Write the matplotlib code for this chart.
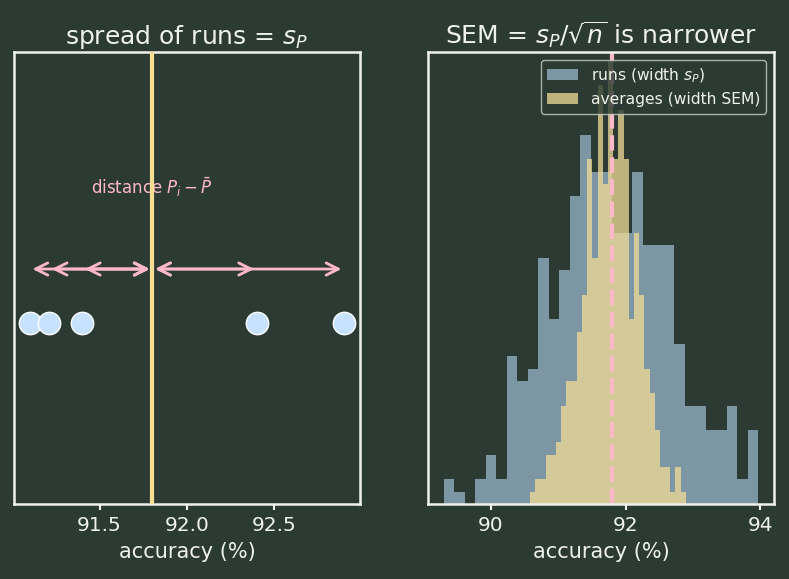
import numpy as np
import matplotlib
matplotlib.use("Agg")
import matplotlib.pyplot as plt

BG = "#2b3b34"
FG = "#eef2ea"
PINK = "#ffb8c9"
GOLD = "#f6df92"
DOT = "#c6e2ff"
RUNS_COLOR = "#b4d4ee"
AVG_COLOR = "#f2dc96"

# five runs shown on the left
runs = [91.10, 91.21, 91.40, 92.40, 92.90]

# histogram of 400 runs (30 bins) and of 400 averages (30 bins)
runs_range = (89.30, 93.97)
runs_counts = [2, 1, 0, 2, 4, 2, 12, 10, 11, 20, 15, 19, 25, 30, 27,
               27, 22, 22, 27, 21, 21, 21, 13, 8, 8, 6, 6, 8, 2, 6]
avg_range = (90.58, 92.895)
avg_counts = [1, 2, 2, 4, 4, 5, 8, 10, 10, 14, 17, 28, 20, 34, 26,
              36, 28, 32, 28, 15, 22, 17, 11, 9, 6, 3, 3, 1, 3, 1]

plt.rcParams.update({
    "figure.facecolor": BG,
    "axes.facecolor": BG,
    "axes.edgecolor": FG,
    "axes.labelcolor": FG,
    "text.color": FG,
    "xtick.color": FG,
    "ytick.color": FG,
    "axes.linewidth": 1.8,
})

fig = plt.figure(figsize=(7.89, 5.79), dpi=100)
ax1 = fig.add_axes([0.0177, 0.1295, 0.4385, 0.7805])
ax2 = fig.add_axes([0.5425, 0.1295, 0.4385, 0.7805])

mean = np.mean(runs)

# left: spread of runs
ax1.scatter(runs, np.zeros(len(runs)), s=260, color=DOT, edgecolor="white",
            linewidth=1, zorder=3)
ax1.axvline(mean, color=GOLD, lw=3, zorder=4)
for r in runs:
    ax1.annotate("", xy=(r, 0.3), xytext=(mean, 0.3),
                 arrowprops=dict(arrowstyle="<->", color=PINK, lw=2,
                                 mutation_scale=22))
ax1.text(mean, 0.75, r"distance $P_i - \bar{P}$", color=PINK, fontsize=12,
         ha="center", va="center")
ax1.set_ylim(-1, 1.5)
ax1.set_yticks([])
ax1.set_xlabel("accuracy (%)", fontsize=15, labelpad=5)
ax1.set_title(r"spread of runs = $s_P$", fontsize=18, color=FG)
ax1.tick_params(axis="x", labelsize=14.5, width=1.5, length=4.5, pad=4)

# right: runs vs averages
run_edges = np.linspace(*runs_range, 31)
avg_edges = np.linspace(*avg_range, 31)
ax2.hist(run_edges[:-1], bins=run_edges, weights=runs_counts,
         color=RUNS_COLOR, alpha=0.6, label=r"runs (width $s_P$)")
ax2.hist(avg_edges[:-1], bins=avg_edges, weights=avg_counts,
         color=AVG_COLOR, alpha=0.75, label="averages (width SEM)")
ax2.axvline(mean, color=PINK, lw=3, ls="--")
ax2.set_ylim(0, 36.7)
ax2.set_yticks([])
ax2.set_xlabel("accuracy (%)", fontsize=15, labelpad=5)
ax2.set_title(r"SEM = $s_P/\sqrt{n}$ is narrower", fontsize=18, color=FG)
ax2.tick_params(axis="x", labelsize=14.5, width=1.5, length=4.5, pad=4)
leg = ax2.legend(loc="upper right", fontsize=11.2, facecolor=BG,
                 edgecolor="#c8d0c8", labelcolor=FG, framealpha=0.8)

fig.savefig("out.png", dpi=100, facecolor=BG)
